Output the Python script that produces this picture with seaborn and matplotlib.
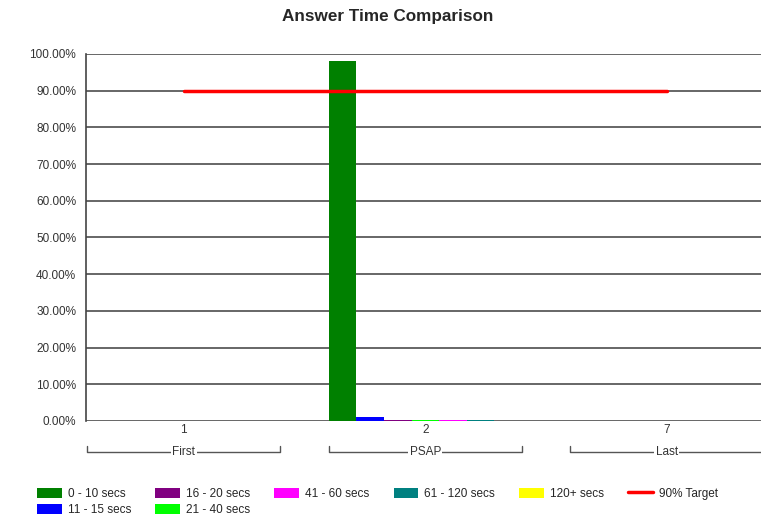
import pandas as pd
import matplotlib
matplotlib.use('Agg')
import matplotlib.pyplot as plt
import matplotlib.transforms as mtransforms
import seaborn as sns

# data
categorias = ['1', '2', '7']
grupos = ['First', 'PSAP', 'Last']
faixas = ['0 - 10 secs', '11 - 15 secs', '16 - 20 secs', '21 - 40 secs',
          '41 - 60 secs', '61 - 120 secs', '120+ secs']
v_0_10 = [0.0, 98.2, 0.0]
v_11_15 = [0.0, 1.1, 0.0]
v_16_20 = [0.0, 0.3, 0.0]
v_21_40 = [0.0, 0.3, 0.0]
v_41_60 = [0.0, 0.3, 0.0]
v_61_120 = [0.0, 0.2, 0.0]
v_120_mais = [0.0, 0.0, 0.0]
meta = [90.0, 90.0, 90.0]
cores = ['#008000', '#0000ff', '#800080', '#00ff00', '#ff00ff', '#008080', '#ffff00']

valores = [v_0_10, v_11_15, v_16_20, v_21_40, v_41_60, v_61_120, v_120_mais]
linhas = []
for faixa, serie in zip(faixas, valores):
    for cat, v in zip(categorias, serie):
        linhas.append({'cat': cat, 'faixa': faixa, 'pct': v})
dados = pd.DataFrame(linhas)

sns.set_style('white')
plt.rcParams['font.family'] = ['Liberation Sans', 'DejaVu Sans']

fig = plt.figure(figsize=(7.61, 5.22), dpi=100)
ax = fig.add_axes([0.113, 0.1935, 0.887, 0.7031])

sns.barplot(data=dados, x='cat', y='pct', hue='faixa', hue_order=faixas,
            palette=cores, width=0.8, saturation=1, ax=ax, legend=True)
for p in ax.patches:
    p.set_edgecolor('none')
sns.lineplot(x=[0, 1, 2], y=meta, color='#ff0000', linewidth=2.5,
             label='90% Target', ax=ax)

ax.set_xlim(-0.405, 2.39)
ax.set_ylim(0, 100)
ax.set_yticks(range(0, 101, 10))
ax.set_yticklabels([f'{v:.2f}%' for v in range(0, 101, 10)], fontsize=8.5, color='#333333')
ax.set_xticks([0, 1, 2])
ax.set_xticklabels(categorias, fontsize=8.5, color='#333333')
ax.tick_params(axis='y', length=5, width=1, color='#444444', pad=2)
ax.tick_params(axis='x', length=0, pad=2)
ax.grid(axis='y', color='#666666', linewidth=1.4)
ax.set_axisbelow(True)
for s in ['top', 'right', 'bottom']:
    ax.spines[s].set_visible(False)
ax.spines['left'].set_color('#444444')
ax.spines['left'].set_linewidth(1.2)
ax.set_xlabel('')
ax.set_ylabel('')

# second level labels with brackets
trans = mtransforms.blended_transform_factory(ax.transData, ax.transAxes)
yb = -0.0845
for i, g in enumerate(grupos):
    x0, x1 = i - 0.4, i + 0.4
    ax.plot([x0, x0, x1, x1], [yb + 0.016, yb, yb, yb + 0.016], color='#555555',
            linewidth=1, transform=trans, clip_on=False)
    ax.text(i, yb, g, transform=trans, ha='center', va='center', fontsize=8.5,
            color='#333333', bbox=dict(facecolor='white', edgecolor='none', pad=1))

fig.suptitle('Answer Time Comparison', x=0.51, y=0.983, fontsize=12.3, fontweight='bold')

handles, labels = ax.get_legend_handles_labels()
ax.get_legend().remove()
fig.legend(handles, labels, loc='upper left', bbox_to_anchor=(0.041, 0.077),
           ncol=6, fontsize=8.5, frameon=False, handlelength=2.1, handleheight=0.9,
           columnspacing=2.05, labelspacing=0.35, handletextpad=0.5, borderpad=0)

plt.savefig('out.png', dpi=100)
